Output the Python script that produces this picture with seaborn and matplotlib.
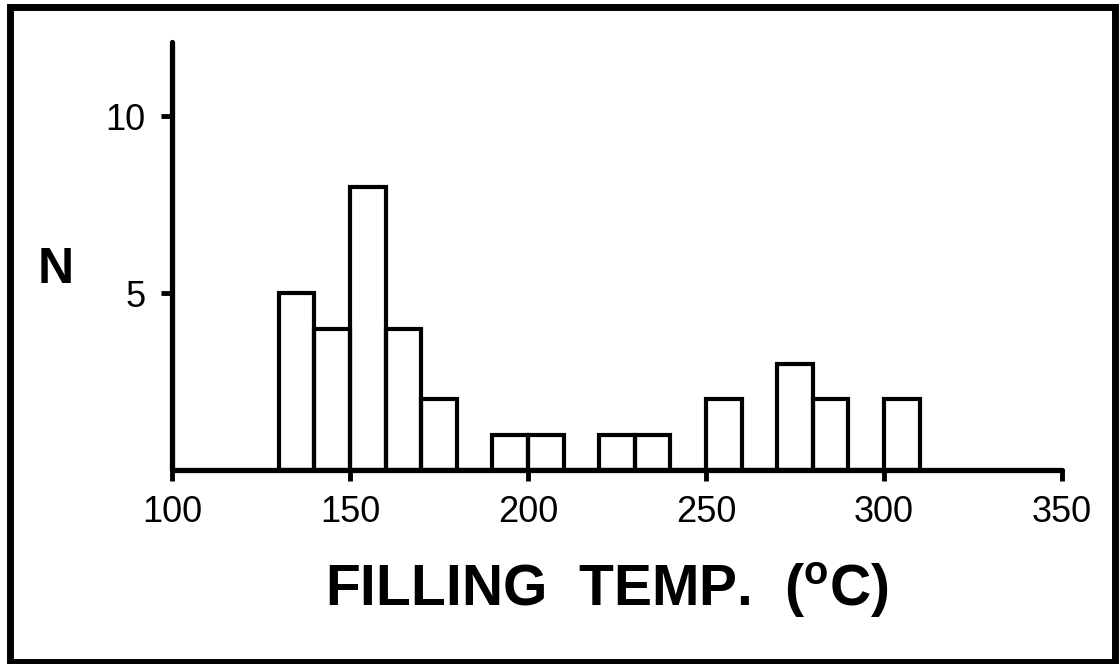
import numpy as np
import pandas as pd
import matplotlib
matplotlib.use('Agg')
import matplotlib.pyplot as plt
import seaborn as sns
from matplotlib.patches import Rectangle

# bin left edges (deg C) and counts
bin_left = [130, 140, 150, 160, 170, 180, 190, 200, 210, 220, 230, 240, 250, 260, 270, 280, 290, 300]
counts = [5, 4, 8, 4, 2, 0, 1, 1, 0, 1, 1, 0, 2, 0, 3, 2, 0, 2]
bin_width = 10

x_ticks = [100, 150, 200, 250, 300, 350]
y_ticks = [5, 10]

df = pd.DataFrame({'temp': np.array(bin_left) + bin_width / 2, 'n': counts})

sns.set_style('white')
plt.rcParams['font.family'] = ['Liberation Sans', 'DejaVu Sans']
plt.rcParams['text.color'] = 'black'
plt.rcParams['xtick.color'] = 'black'
plt.rcParams['ytick.color'] = 'black'

fig = plt.figure(figsize=(11.2, 6.64), dpi=100)
ax = fig.add_axes([172 / 1120, 1 - 470 / 664, (1062 - 172) / 1120, (470 - 42) / 664])

sns.histplot(data=df, x='temp', weights='n', binwidth=bin_width, binrange=(130, 310),
             fill=False, element='bars', color='black', linewidth=3, ax=ax)

ax.set_xlim(100, 350)
ax.set_ylim(0, 12.1)
ax.set_xticks(x_ticks)
ax.set_yticks(y_ticks)
ax.tick_params(axis='both', bottom=True, left=True, direction='out', length=8,
               width=3.5, color='black', labelcolor='black', labelsize=26)
ax.tick_params(axis='x', pad=10)
ax.tick_params(axis='y', pad=11)
for side in ['top', 'right']:
    ax.spines[side].set_visible(False)
for side in ['left', 'bottom']:
    ax.spines[side].set_linewidth(3.8)
    ax.spines[side].set_color('black')
    ax.spines[side].set_capstyle('round')
ax.set_xlabel('')
ax.set_ylabel('')

fig.text(56 / 1120, 1 - 270 / 664, 'N', fontsize=36, fontweight='bold',
         color='black', ha='center', va='center')
fig.text(607 / 1120, 1 - 591 / 664, r'FILLING  TEMP.  ($^{\mathregular{o}}$C)',
         fontsize=41, fontweight='bold', color='black', ha='center', va='center')

# outer frame
fig.patches.append(Rectangle((10 / 1120, 2 / 664), 1105 / 1120, 655 / 664,
                             transform=fig.transFigure, fill=False,
                             edgecolor='black', linewidth=5))

fig.savefig('out.png', dpi=100)
